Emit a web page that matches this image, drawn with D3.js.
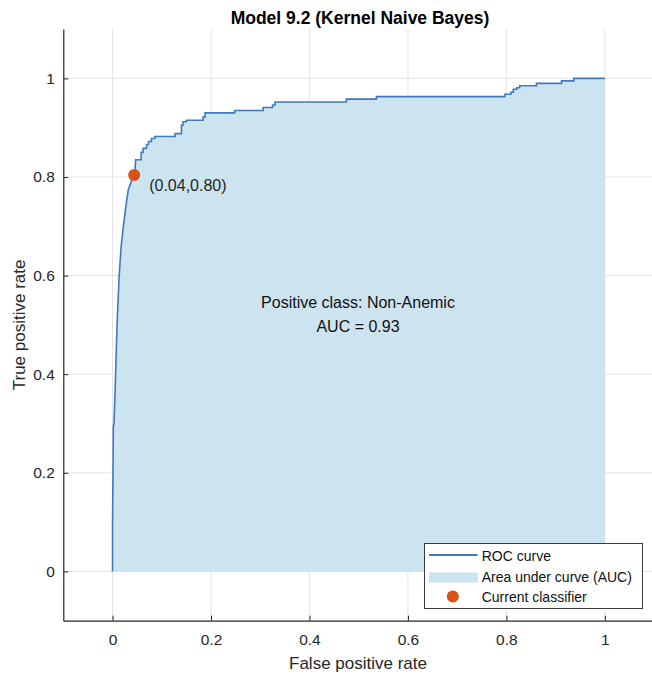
<!DOCTYPE html>
<html>
<head>
<meta charset="utf-8">
<script src="https://cdn.jsdelivr.net/npm/d3@7"></script>
<style>
  html, body { margin: 0; padding: 0; background: #fff; }
  svg { display: block; font-family: "Liberation Sans", Arial, Helvetica, sans-serif; }
</style>
</head>
<body>
<svg id="chart" width="652" height="675"></svg>
<script>
// ROC curve vertices (false positive rate, true positive rate)
const fpr = [0, 0.000, 0.001, 0.0016, 0.003, 0.0053, 0.0093, 0.0134, 0.0175, 0.022, 0.027, 0.032, 0.036, 0.041, 0.045, 0.047,
  0.058, 0.058, 0.062, 0.062, 0.069, 0.069, 0.073, 0.073, 0.079, 0.079, 0.086, 0.086, 0.127, 0.127, 0.140, 0.140,
  0.143, 0.143, 0.150, 0.150, 0.184, 0.184, 0.188, 0.188, 0.248, 0.248, 0.306, 0.306, 0.325, 0.325, 0.330, 0.330,
  0.475, 0.475, 0.536, 0.536, 0.797, 0.797, 0.809, 0.809, 0.814, 0.814, 0.821, 0.821, 0.827, 0.827, 0.861, 0.861,
  0.912, 0.912, 0.937, 0.937, 1.0];
const tpr = [0, 0.10, 0.20, 0.294, 0.30, 0.369, 0.504, 0.598, 0.659, 0.70, 0.74, 0.774, 0.785, 0.800, 0.805, 0.835,
  0.835, 0.850, 0.850, 0.858, 0.858, 0.866, 0.866, 0.872, 0.872, 0.878, 0.878, 0.882, 0.882, 0.888, 0.888, 0.905,
  0.905, 0.912, 0.912, 0.915, 0.915, 0.922, 0.922, 0.930, 0.930, 0.935, 0.935, 0.941, 0.941, 0.946, 0.946, 0.952,
  0.952, 0.958, 0.958, 0.963, 0.963, 0.968, 0.968, 0.972, 0.972, 0.978, 0.978, 0.981, 0.981, 0.985, 0.985, 0.990,
  0.990, 0.995, 0.995, 1.0, 1.0];

// Operating point of the current classifier
const currentFPR = 0.044;
const currentTPR = 0.804;

const aucValue = 0.93;
const positiveClass = "Non-Anemic";
const titleText = "Model 9.2 (Kernel Naive Bayes)";
const xTicks = [0, 0.2, 0.4, 0.6, 0.8, 1];
const yTicks = [0, 0.2, 0.4, 0.6, 0.8, 1];
const legendLabels = ["ROC curve", "Area under curve (AUC)", "Current classifier"];

const points = fpr.map((f, i) => ({ x: f, y: tpr[i] }));

const svg = d3.select("#chart");
const axisColor = "#262626";
const lineColor = "#4079bf";
const areaColor = "#cce3f0";
const markerColor = "#d95319";

const x = d3.scaleLinear().domain([-0.1, 1.1]).range([63.3, 654.1]);
const y = d3.scaleLinear().domain([-0.1, 1.1]).range([620.7, 29.1]);

// grid lines
const grid = svg.append("g");
grid.selectAll("line.gx").data(xTicks).join("line")
  .attr("x1", d => x(d)).attr("x2", d => x(d))
  .attr("y1", y(-0.1)).attr("y2", y(1.1))
  .attr("stroke", "#e4e4e4").attr("stroke-width", 1);
grid.selectAll("line.gy").data(yTicks).join("line")
  .attr("y1", d => y(d)).attr("y2", d => y(d))
  .attr("x1", x(-0.1)).attr("x2", x(1.1))
  .attr("stroke", "#e4e4e4").attr("stroke-width", 1);

// area under curve
const area = d3.area().x(d => x(d.x)).y0(y(0)).y1(d => y(d.y));
svg.append("path").datum(points).attr("d", area).attr("fill", areaColor);

// ROC curve
const line = d3.line().x(d => x(d.x)).y(d => y(d.y));
svg.append("path").datum(points).attr("d", line)
  .attr("fill", "none").attr("stroke", lineColor).attr("stroke-width", 1.6)
  .attr("stroke-linejoin", "miter");

// current classifier
svg.append("circle").attr("cx", x(currentFPR)).attr("cy", y(currentTPR))
  .attr("r", 6).attr("fill", markerColor);
svg.append("text").attr("x", x(currentFPR) + 15).attr("y", y(currentTPR) + 16)
  .attr("font-size", 16).attr("fill", axisColor)
  .text(`(${currentFPR.toFixed(2)},${currentTPR.toFixed(2)})`);

// axes
const xAxis = d3.axisBottom(x).tickValues(xTicks).tickSizeInner(-5).tickSizeOuter(0)
  .tickFormat(d => d3.format("~g")(d)).tickPadding(13.5);
const gx = svg.append("g").attr("transform", `translate(0,${y(-0.1)})`).call(xAxis);
const yAxis = d3.axisLeft(y).tickValues(yTicks).tickSizeInner(-5).tickSizeOuter(0)
  .tickFormat(d => d3.format("~g")(d)).tickPadding(8.5);
const gy = svg.append("g").attr("transform", `translate(${x(-0.1)},0)`).call(yAxis);
[gx, gy].forEach(g => {
  g.select(".domain").attr("stroke", axisColor).attr("stroke-width", 1.2);
  g.selectAll(".tick line").attr("stroke", axisColor).attr("stroke-width", 1);
  g.selectAll(".tick text").attr("fill", axisColor).attr("font-size", 15.5)
    .attr("font-family", "Liberation Sans, Arial, sans-serif");
});

// title and axis labels
svg.append("text").attr("x", 360).attr("y", 24).attr("text-anchor", "middle")
  .attr("font-size", 17.5).attr("font-weight", "bold").attr("fill", "#000").text(titleText);
svg.append("text").attr("x", 358).attr("y", 669).attr("text-anchor", "middle")
  .attr("font-size", 17).attr("fill", axisColor).text("False positive rate");
svg.append("text").attr("transform", `translate(25,${y(0.5)}) rotate(-90)`)
  .attr("text-anchor", "middle").attr("font-size", 17).attr("fill", axisColor).text("True positive rate");

// annotation in the middle of the plot
svg.append("text").attr("x", 358).attr("y", 308).attr("text-anchor", "middle")
  .attr("font-size", 16).attr("fill", "#111").text(`Positive class: ${positiveClass}`);
svg.append("text").attr("x", 358).attr("y", 332).attr("text-anchor", "middle")
  .attr("font-size", 16).attr("fill", "#111").text(`AUC = ${aucValue.toFixed(2)}`);

// legend
const lg = svg.append("g").attr("transform", "translate(424.5,543.5)");
lg.append("rect").attr("width", 218).attr("height", 65)
  .attr("fill", "#fff").attr("stroke", "#3a3a3a").attr("stroke-width", 1);
const rowY = [12.5, 33.5, 53.5];
lg.append("line").attr("x1", 4.5).attr("x2", 53).attr("y1", 11.5).attr("y2", 11.5)
  .attr("stroke", lineColor).attr("stroke-width", 2.2);
lg.append("rect").attr("x", 4.5).attr("y", 29).attr("width", 49).attr("height", 10)
  .attr("fill", areaColor);
lg.append("circle").attr("cx", 28.3).attr("cy", 53).attr("r", 6).attr("fill", markerColor);
lg.selectAll("text.lbl").data(legendLabels).join("text")
  .attr("x", 57.2).attr("y", (d, i) => rowY[i] + 5)
  .attr("font-size", 14).attr("fill", "#111").text(d => d);
</script>
</body>
</html>
